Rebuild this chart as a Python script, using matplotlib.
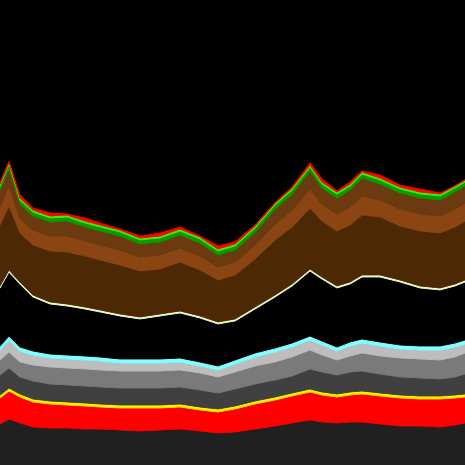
import matplotlib
matplotlib.use("Agg")
import matplotlib.pyplot as plt
import numpy as np

x = [0, 9, 20, 33, 50, 67, 85, 100, 120, 140, 160, 180, 200, 218, 235,
     255, 275, 292, 310, 322, 337, 350, 362, 380, 400, 420, 440, 455, 465]

base_dark = [41, 46, 42, 38, 37, 37, 36, 36, 35, 34, 35, 36, 34, 32, 33,
             36, 39, 42, 45, 43, 42, 43, 43, 41, 39, 39, 38, 40, 42]
red_low = [26, 28, 26, 25, 24, 23, 23, 22, 22, 23, 22, 22, 21, 21, 23,
           25, 26, 27, 28, 27, 26, 27, 28, 28, 28, 27, 28, 27, 26]
yellow = [3] * 29
dark_gray = [20, 20, 17, 18, 17, 17, 17, 17, 17, 17, 17, 17, 17, 16, 17,
             17, 17, 17, 20, 20, 19, 20, 20, 19, 18, 18, 17, 18, 20]
gray = [15, 16, 15, 16, 17, 17, 17, 17, 17, 17, 17, 17, 17, 16, 17,
        18, 18, 19, 19, 17, 15, 16, 18, 18, 19, 19, 19, 20, 21]
light_gray = [10, 12, 11, 10, 9, 9, 9, 9, 8, 8, 8, 8, 7, 7, 8,
              9, 10, 10, 10, 10, 9, 10, 10, 10, 9, 9, 10, 10, 9]
cyan = [4] * 29
gap = [58, 64, 63, 54, 50, 49, 47, 45, 43, 40, 43, 45, 44, 42, 39,
       44, 51, 57, 65, 62, 59, 58, 62, 65, 63, 58, 56, 57, 58]
cream = [2] * 29
dark_brown = [61, 64, 49, 50, 51, 52, 51, 50, 49, 46, 45, 49, 46, 42, 44,
              48, 55, 57, 61, 56, 55, 57, 60, 58, 54, 55, 55, 57, 59]
mid_brown = [18, 20, 15, 15, 15, 16, 15, 15, 15, 14, 14, 14, 14, 13, 13,
             14, 16, 17, 19, 17, 17, 18, 19, 17, 17, 17, 17, 18, 18]
brown = [17, 18, 14, 14, 14, 15, 14, 14, 14, 13, 13, 13, 13, 12, 12,
         13, 15, 16, 18, 16, 16, 17, 18, 16, 16, 16, 16, 17, 17]
green = [4] * 29
light_green = [2] * 29
red_top = [1, 0, 3, 2, 3, 1, 3, 2, 1, 2, 3, 2, 1, 3, 2,
           1, 0, 1, 2, 3, 1, 2, 1, 3, 2, 3, 1, 0, 0]

series = [base_dark, red_low, yellow, dark_gray, gray, light_gray, cyan, gap,
          cream, dark_brown, mid_brown, brown, green, light_green, red_top]
colors = ["#202020", "#ff0000", "#ffee00", "#404040", "#7a7a7a", "#bdbdbd",
          "#80ffff", "#000000", "#eeffcc", "#4d2805", "#8b4513", "#6b3a0e",
          "#0a9a00", "#44f000", "#ff0000"]

fig = plt.figure(figsize=(4.65, 4.65), dpi=100, facecolor="black")
ax = fig.add_axes([0, 0, 1, 1])
ax.set_facecolor("black")
ax.stackplot(x, *series, colors=colors, linewidth=0.6, edgecolor="face")
ax.set_xlim(0, 465)
ax.set_ylim(0, 465)
ax.axis("off")
fig.savefig("out.png", dpi=100, facecolor="black")
